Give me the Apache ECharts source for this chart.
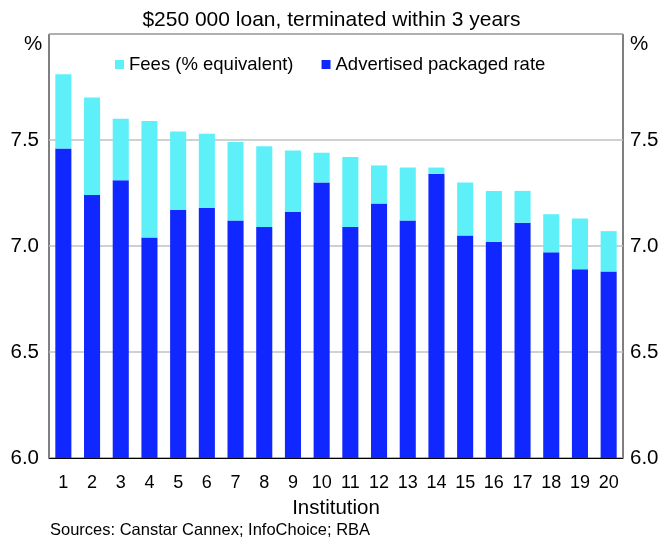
<!DOCTYPE html>
<html>
<head>
<meta charset="utf-8">
<script src="https://cdn.jsdelivr.net/npm/echarts@6/dist/echarts.min.js"></script>
<style>
  html, body { margin: 0; padding: 0; background: #fff; }
  #chart { width: 663px; height: 543px; }
</style>
</head>
<body>
<div id="chart"></div>
<script>
// institutions 1..20
const institutions = ['1', '2', '3', '4', '5', '6', '7', '8', '9', '10',
  '11', '12', '13', '14', '15', '16', '17', '18', '19', '20']
// advertised packaged rate, %
const advertisedRate = [7.46, 7.24, 7.31, 7.04, 7.17, 7.18, 7.12, 7.09, 7.16, 7.30,
  7.09, 7.20, 7.12, 7.34, 7.05, 7.02, 7.11, 6.97, 6.89, 6.88]
// fees, % equivalent (stacked on top)
const feesEquivalent = [0.35, 0.46, 0.29, 0.55, 0.37, 0.35, 0.37, 0.38, 0.29, 0.14,
  0.33, 0.18, 0.25, 0.03, 0.25, 0.24, 0.15, 0.18, 0.24, 0.19]
const yTicks = ['6.0', '6.5', '7.0', '7.5']

const font = 'Liberation Sans, Arial, sans-serif'
const chart = echarts.init(document.getElementById('chart'))

const yAxisBase = {
  type: 'value',
  min: 6,
  max: 8,
  interval: 0.5,
  axisLine: { show: false },
  axisTick: { show: false },
  axisLabel: {
    fontFamily: font,
    fontSize: 20.5,
    color: '#000',
    showMaxLabel: false,
    formatter: v => yTicks.find(t => Number(t) === v) || ''
  }
}

chart.setOption({
  animation: false,
  title: {
    text: '$250 000 loan, terminated within 3 years',
    left: 'center',
    top: 5,
    textStyle: { fontFamily: font, fontSize: 21, fontWeight: 'normal', color: '#000' }
  },
  legend: {
    data: ['Fees (% equivalent)', 'Advertised packaged rate'],
    top: 50,
    left: 110,
    itemWidth: 9,
    itemHeight: 9,
    itemGap: 28,
    icon: 'rect',
    textStyle: { fontFamily: font, fontSize: 18.5, color: '#000' }
  },
  grid: {
    left: 49,
    right: 40,
    top: 34,
    bottom: 85,
    show: true,
    borderColor: '#000',
    borderWidth: 1
  },
  graphic: [
    { type: 'text', left: 24, top: 34, style: { text: '%', font: '20.5px ' + font, fill: '#000' } },
    { type: 'text', left: 630, top: 34, style: { text: '%', font: '20.5px ' + font, fill: '#000' } },
    { type: 'text', left: 50, top: 522, style: { text: 'Sources: Canstar Cannex; InfoChoice; RBA', font: '16.5px ' + font, fill: '#000' } }
  ],
  xAxis: {
    type: 'category',
    data: institutions,
    name: 'Institution',
    nameLocation: 'middle',
    nameGap: 40,
    nameTextStyle: { fontFamily: font, fontSize: 20.5, color: '#000' },
    axisLine: { lineStyle: { color: '#000', width: 1 } },
    axisTick: { inside: true, length: 5, lineStyle: { color: '#000' } },
    axisLabel: { fontFamily: font, fontSize: 18, color: '#000', margin: 16, interval: 0 }
  },
  yAxis: [
    Object.assign({}, yAxisBase, {
      position: 'left',
      splitLine: { lineStyle: { color: '#c0c0c0', width: 1.5 } },
      axisLabel: Object.assign({}, yAxisBase.axisLabel, { margin: 10 })
    }),
    Object.assign({}, yAxisBase, {
      position: 'right',
      splitLine: { show: false },
      axisLabel: Object.assign({}, yAxisBase.axisLabel, { margin: 7 })
    })
  ],
  series: [
    {
      name: 'Advertised packaged rate',
      type: 'bar',
      stack: 'rate',
      barWidth: '56%',
      itemStyle: { color: '#1127ff' },
      data: advertisedRate
    },
    {
      name: 'Fees (% equivalent)',
      type: 'bar',
      stack: 'rate',
      barWidth: '56%',
      itemStyle: { color: '#5ef0f9' },
      data: feesEquivalent
    }
  ]
})
</script>
</body>
</html>
